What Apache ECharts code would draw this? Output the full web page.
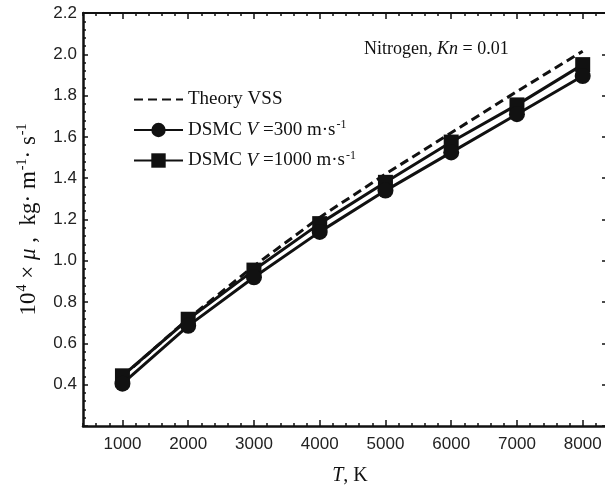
<!DOCTYPE html>
<html>
<head>
<meta charset="utf-8">
<script src="https://cdn.jsdelivr.net/npm/echarts@6/dist/echarts.min.js"></script>
<style>
  html, body { margin: 0; padding: 0; background: #fff; }
  #chart { width: 605px; height: 485px; }
</style>
</head>
<body>
<div id="chart"></div>
<script>
// temperature, K
const temps = [1000, 2000, 3000, 4000, 5000, 6000, 7000, 8000];
// 10^4 x mu, kg/(m s)
const theoryVSS = [0.44, 0.72, 0.975, 1.21, 1.42, 1.62, 1.82, 2.015];
const dsmc300 = [0.405, 0.685, 0.92, 1.14, 1.34, 1.525, 1.71, 1.895];
const dsmc1000 = [0.443, 0.717, 0.955, 1.18, 1.38, 1.575, 1.755, 1.95];
const xMajorTicks = [1000, 2000, 3000, 4000, 5000, 6000, 7000, 8000];

const serif = "'Liberation Serif', 'DejaVu Serif', serif";
const sans = "'Liberation Sans', Arial, sans-serif";

const pairs = (ys) => temps.map((t, i) => [t, ys[i]]);

const chart = echarts.init(document.getElementById("chart"));

// the right frame line sits just outside the picture, like in the original
const xBase = {
  type: "value",
  min: 400,
  max: 8400,
  interval: 200,
  splitLine: { show: false },
};

const option = {
  animation: false,
  backgroundColor: "#fff",
  grid: { left: 83, top: 13, right: -4, bottom: 59, outerBoundsMode: "none", containLabel: false },
  title: {
    text: "{n|Nitrogen, }{i|Kn}{n| = 0.01}",
    left: 359,
    top: 35,
    textStyle: {
      fontWeight: "normal",
      rich: {
        n: { fontFamily: serif, fontSize: 18, color: "#111", fontWeight: "normal" },
        i: { fontFamily: serif, fontSize: 18, fontStyle: "italic", color: "#111", fontWeight: "normal" },
      },
    },
  },
  legend: {
    orient: "vertical",
    left: 128,
    top: 85,
    itemWidth: 49,
    itemHeight: 18,
    itemGap: 10,
    data: [
      { name: "Theory VSS", itemStyle: { opacity: 0 } },
      "DSMC300",
      "DSMC1000",
    ],
    formatter: function (name) {
      if (name === "Theory VSS") return "{n|Theory VSS}";
      if (name === "DSMC300") return "{n|DSMC }{i|V}{n| =300 m·s}{sup|-1}";
      return "{n|DSMC }{i|V}{n| =1000 m·s}{sup|-1}";
    },
    textStyle: {
      padding: [0, 0, 0, 0],
      rich: {
        n: { fontFamily: serif, fontSize: 19, color: "#111", lineHeight: 21 },
        i: { fontFamily: serif, fontSize: 19, fontStyle: "italic", color: "#111", lineHeight: 21 },
        sup: { fontFamily: serif, fontSize: 12, color: "#111", padding: [0, 0, 10, 1] },
      },
    },
  },
  xAxis: [
    Object.assign({}, xBase, {
      position: "bottom",
      name: "{i|T}{n|, K}",
      nameLocation: "middle",
      nameGap: 40,
      nameTextStyle: {
        padding: [0, 0, 0, 8],
        rich: {
          n: { fontFamily: serif, fontSize: 20, color: "#111" },
          i: { fontFamily: serif, fontSize: 20, fontStyle: "italic", color: "#111" },
        },
      },
      axisLine: { show: true, lineStyle: { color: "#111", width: 2.5 } },
      axisTick: { show: true, inside: true, length: 3, lineStyle: { color: "#111", width: 1.5 } },
      axisLabel: {
        margin: 10,
        fontFamily: sans,
        fontSize: 17,
        color: "#222",
        formatter: function (v) {
          return v % 1000 === 0 && v >= 1000 && v <= 8000 ? String(v) : "";
        },
      },
    }),
    Object.assign({}, xBase, {
      position: "bottom",
      axisLine: { show: false },
      axisTick: { show: true, inside: true, length: 6, customValues: xMajorTicks, lineStyle: { color: "#111", width: 1.5 } },
      axisLabel: { show: false },
    }),
    Object.assign({}, xBase, {
      position: "top",
      axisLine: { show: true, lineStyle: { color: "#111", width: 2 } },
      axisTick: { show: true, inside: true, length: 3, lineStyle: { color: "#111", width: 1.5 } },
      axisLabel: { show: false },
    }),
    Object.assign({}, xBase, {
      position: "top",
      axisLine: { show: false },
      axisTick: { show: true, inside: true, length: 6, customValues: xMajorTicks, lineStyle: { color: "#111", width: 1.5 } },
      axisLabel: { show: false },
    }),
  ],
  yAxis: [
    {
      type: "value",
      min: 0.2,
      max: 2.2,
      interval: 0.2,
      position: "left",
      name: "{n|10}{sup|4}{n| × }{i|μ}{n| ,  kg· m}{sup|-1}{n|· s}{sup|-1}",
      nameLocation: "middle",
      nameRotate: 90,
      nameGap: 40,
      nameTextStyle: {
        rich: {
          n: { fontFamily: serif, fontSize: 23, color: "#111" },
          i: { fontFamily: serif, fontSize: 23, fontStyle: "italic", color: "#111" },
          sup: { fontFamily: serif, fontSize: 14, color: "#111", padding: [0, 0, 14, 1] },
        },
      },
      splitLine: { show: false },
      axisLine: { show: true, lineStyle: { color: "#111", width: 2.5 } },
      axisTick: { show: true, inside: true, length: 5, lineStyle: { color: "#111", width: 1.5 } },
      minorTick: { show: true, splitNumber: 5, length: 3, lineStyle: { color: "#111", width: 1.5 } },
      axisLabel: {
        margin: 6,
        fontFamily: sans,
        fontSize: 17,
        color: "#222",
        formatter: function (v) {
          return v < 0.3 ? "" : v.toFixed(1);
        },
      },
    },
    {
      type: "value",
      min: 0.2,
      max: 2.2,
      interval: 0.2,
      position: "right",
      splitLine: { show: false },
      axisLine: { show: true, lineStyle: { color: "#111", width: 2 } },
      axisTick: { show: true, inside: true, length: 7, lineStyle: { color: "#111", width: 1.5 } },
      axisLabel: { show: false },
    },
  ],
  series: [
    {
      name: "Theory VSS",
      type: "line",
      data: pairs(theoryVSS),
      symbol: "none",
      lineStyle: { color: "#111", width: 3, type: [9, 5] },
      itemStyle: { color: "#111" },
      z: 2,
    },
    {
      name: "DSMC1000",
      type: "line",
      data: pairs(dsmc1000),
      symbol: "rect",
      symbolSize: 15,
      lineStyle: { color: "#111", width: 3 },
      itemStyle: { color: "#111" },
      z: 3,
    },
    {
      name: "DSMC300",
      type: "line",
      data: pairs(dsmc300),
      symbol: "circle",
      symbolSize: 16,
      lineStyle: { color: "#111", width: 3 },
      itemStyle: { color: "#111" },
      z: 4,
    },
  ],
};

chart.setOption(option);
</script>
</body>
</html>
